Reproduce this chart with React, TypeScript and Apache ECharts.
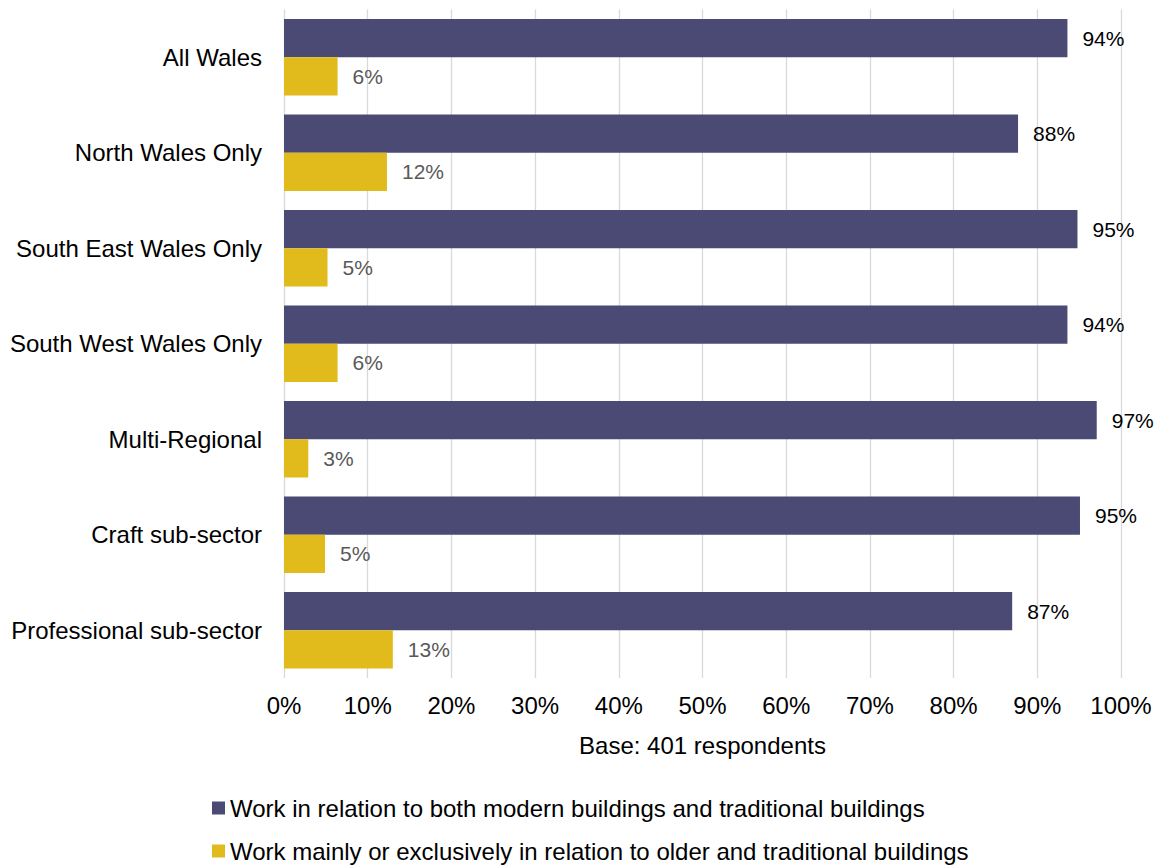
import React, { useEffect, useRef } from "react";
import * as echarts from "echarts";

const categories = [
  "All Wales",
  "North Wales Only",
  "South East Wales Only",
  "South West Wales Only",
  "Multi-Regional",
  "Craft sub-sector",
  "Professional sub-sector",
];
const bothValues = [93.6, 87.7, 94.8, 93.6, 97.1, 95.1, 87.0];
const traditionalValues = [6.4, 12.3, 5.2, 6.4, 2.9, 4.9, 13.0];
const seriesNames = [
  "Work in relation to both modern buildings and traditional buildings",
  "Work mainly or exclusively in relation to older and traditional buildings",
];
const axisName = "Base: 401 respondents";

const FONT = "'Liberation Sans', Arial, sans-serif";

export default function App() {
  const ref = useRef<HTMLDivElement>(null);
  useEffect(() => {
    if (!ref.current) return;
    const chart = echarts.init(ref.current, undefined, { renderer: "svg" });
    chart.setOption({
      animation: false,
      textStyle: { fontFamily: FONT },
      grid: { left: 284, right: 36, top: 9.5, bottom: 187, containLabel: false },
      legend: {
        orient: "vertical",
        left: 212,
        top: 796,
        width: 900,
        height: 69,
        padding: 0,
        itemWidth: 13,
        itemHeight: 13,
        itemGap: 19,
        icon: "rect",
        textStyle: { fontSize: 24, color: "#000", fontFamily: FONT },
        data: seriesNames,
      },
      xAxis: {
        type: "value",
        min: 0,
        max: 100,
        interval: 10,
        name: axisName,
        nameLocation: "middle",
        nameGap: 55,
        nameTextStyle: { fontSize: 24, color: "#000", fontFamily: FONT },
        axisLine: { show: false },
        axisTick: { show: false },
        axisLabel: {
          formatter: "{value}%",
          fontSize: 24,
          color: "#000",
          margin: 15,
          fontFamily: FONT,
        },
        splitLine: { show: true, lineStyle: { color: "#d9d9d9", width: 1.3 } },
      },
      yAxis: {
        type: "category",
        data: categories,
        inverse: true,
        axisLine: { show: false },
        axisTick: { show: false },
        axisLabel: { fontSize: 24, color: "#000", margin: 22, fontFamily: FONT },
      },
      series: [
        {
          name: seriesNames[0],
          type: "bar",
          data: bothValues,
          barGap: "0%",
          barCategoryGap: "20%",
          itemStyle: { color: "#4a4a75" },
          label: {
            show: true,
            position: "right",
            distance: 15,
            fontSize: 21,
            color: "#000",
            fontFamily: FONT,
            formatter: (p: any) => Math.round(p.value) + "%",
          },
        },
        {
          name: seriesNames[1],
          type: "bar",
          data: traditionalValues,
          barGap: "0%",
          barCategoryGap: "20%",
          itemStyle: { color: "#e1ba1b" },
          label: {
            show: true,
            position: "right",
            distance: 15,
            fontSize: 21,
            color: "#595959",
            fontFamily: FONT,
            formatter: (p: any) => Math.round(p.value) + "%",
          },
        },
      ],
    });
    return () => chart.dispose();
  }, []);
  return <div ref={ref} style={{ width: 1157, height: 865, position: "absolute", left: 0, top: 0 }} />;
}
